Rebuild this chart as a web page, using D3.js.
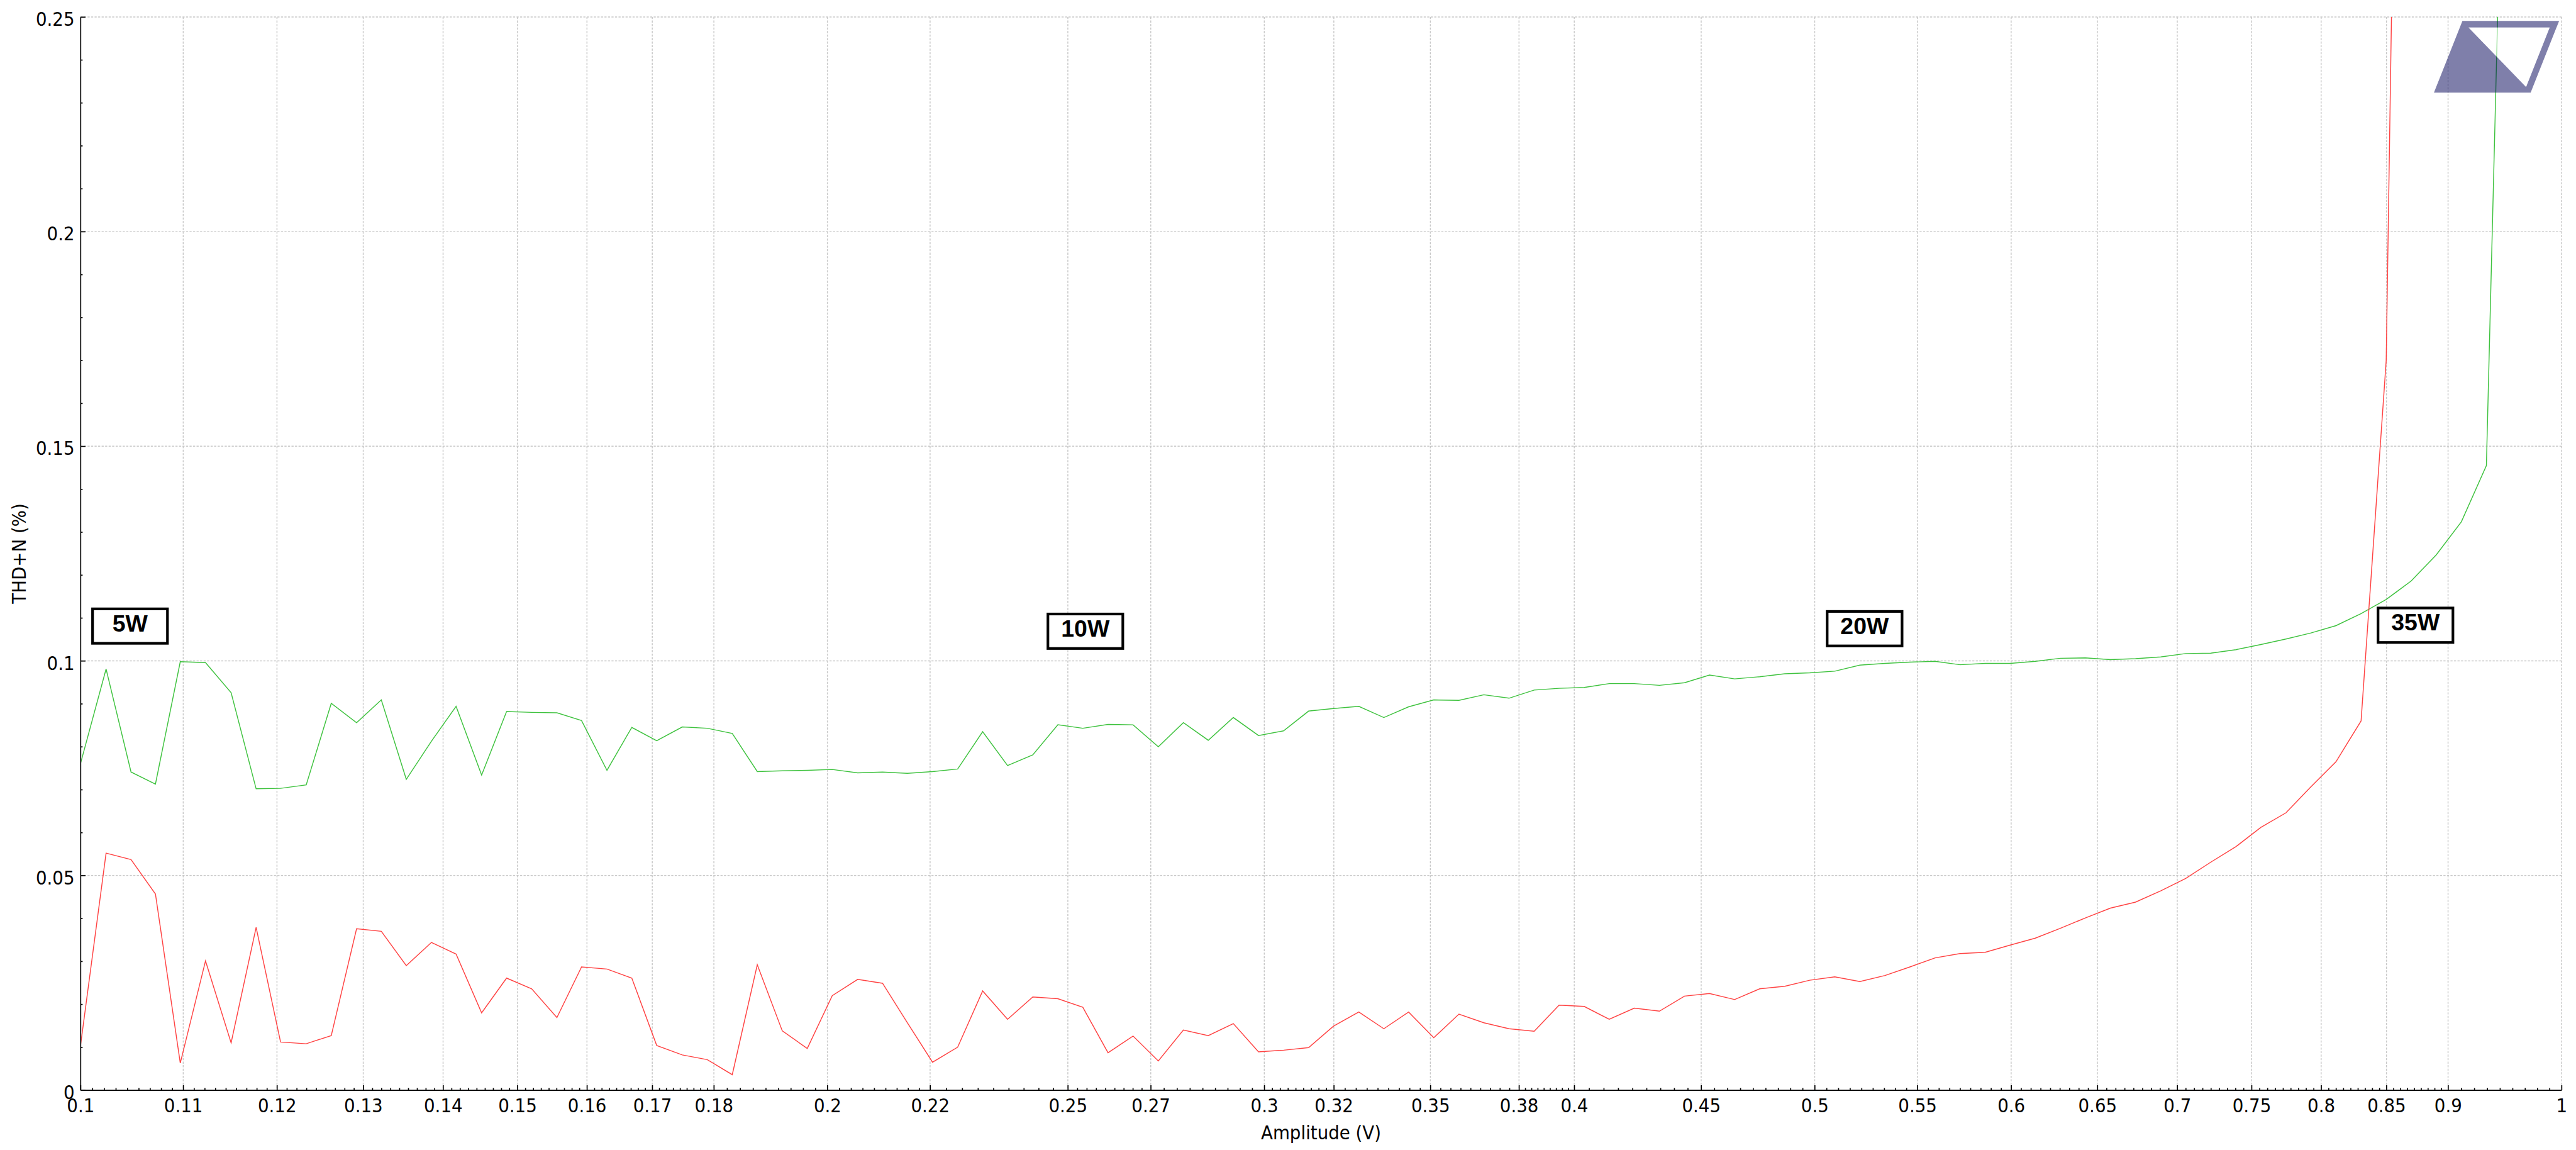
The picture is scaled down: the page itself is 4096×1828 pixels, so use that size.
<!DOCTYPE html>
<html>
<head>
<meta charset="utf-8">
<script src="https://cdn.jsdelivr.net/npm/d3@7/dist/d3.min.js"></script>
<style>
  html, body { margin: 0; padding: 0; background: #fff; overflow: hidden; }
  svg { display: block; }
  .tick-lbl, .axis-title { font-family: "DejaVu Sans Condensed", "DejaVu Sans", sans-serif; font-stretch: condensed; fill: #000; }
  .box-lbl { font-family: "Liberation Sans", Arial, sans-serif; font-weight: bold; fill: #000; }
</style>
</head>
<body>
<svg id="chart"></svg>
<script>
// ── Data ──────────────────────────────────────────────────────────────────────
const AMPLITUDE = [
  0.1000, 0.1024, 0.1048, 0.1072, 0.1097, 0.1123, 0.1150, 0.1177, 0.1204, 0.1233,
  0.1262, 0.1292, 0.1322, 0.1353, 0.1385, 0.1417, 0.1451, 0.1485, 0.1520, 0.1556,
  0.1592, 0.1630, 0.1668, 0.1707, 0.1748, 0.1789, 0.1831, 0.1874, 0.1918, 0.1963,
  0.2009, 0.2057, 0.2105, 0.2154, 0.2205, 0.2257, 0.2310, 0.2364, 0.2420, 0.2477,
  0.2535, 0.2595, 0.2656, 0.2719, 0.2783, 0.2848, 0.2915, 0.2984, 0.3054, 0.3126,
  0.3199, 0.3275, 0.3352, 0.3430, 0.3511, 0.3594, 0.3678, 0.3765, 0.3854, 0.3944,
  0.4037, 0.4132, 0.4229, 0.4329, 0.4431, 0.4535, 0.4642, 0.4751, 0.4863, 0.4977,
  0.5094, 0.5214, 0.5337, 0.5462, 0.5591, 0.5722, 0.5857, 0.5995, 0.6136, 0.6280,
  0.6428, 0.6579, 0.6734, 0.6893, 0.7055, 0.7221, 0.7391, 0.7565, 0.7743, 0.7925,
  0.8111, 0.8302, 0.8498, 0.8697, 0.8902, 0.9112, 0.9326, 0.9545, 0.9770, 1.0000
];

// THD+N (%) — green trace
const THD_GREEN = [
  0.0761, 0.0981, 0.0741, 0.0713, 0.0998, 0.0996, 0.0926, 0.0702, 0.0703, 0.0711,
  0.0901, 0.0856, 0.0909, 0.0724, 0.0813, 0.0894, 0.0734, 0.0882, 0.0880, 0.0879,
  0.0861, 0.0745, 0.0845, 0.0814, 0.0846, 0.0843, 0.0831, 0.0742, 0.0744, 0.0745,
  0.0747, 0.0739, 0.0741, 0.0738, 0.0742, 0.0748, 0.0835, 0.0756, 0.0781, 0.0851,
  0.0843, 0.0852, 0.0851, 0.0800, 0.0856, 0.0815, 0.0868, 0.0826, 0.0837, 0.0883,
  0.0889, 0.0894, 0.0868, 0.0893, 0.0909, 0.0908, 0.0921, 0.0913, 0.0932, 0.0936,
  0.0938, 0.0947, 0.0947, 0.0943, 0.0949, 0.0967, 0.0958, 0.0963, 0.0970, 0.0972,
  0.0976, 0.0990, 0.0994, 0.0997, 0.0999, 0.0991, 0.0994, 0.0994, 0.0999, 0.1006,
  0.1007, 0.1003, 0.1005, 0.1009, 0.1017, 0.1018, 0.1026, 0.1038, 0.1051, 0.1065,
  0.1082, 0.1110, 0.1143, 0.1186, 0.1247, 0.1324, 0.1455, 0.3780
];

// THD+N (%) — red trace
const THD_RED = [
  0.0104, 0.0552, 0.0537, 0.0457, 0.0063, 0.0301, 0.0110, 0.0379, 0.0112, 0.0108,
  0.0127, 0.0376, 0.0370, 0.0290, 0.0344, 0.0317, 0.0180, 0.0261, 0.0236, 0.0169,
  0.0287, 0.0282, 0.0261, 0.0104, 0.0082, 0.0071, 0.0036, 0.0292, 0.0138, 0.0097,
  0.0220, 0.0258, 0.0249, 0.0157, 0.0065, 0.0100, 0.0231, 0.0165, 0.0217, 0.0213,
  0.0193, 0.0087, 0.0126, 0.0068, 0.0140, 0.0127, 0.0155, 0.0089, 0.0093, 0.0099,
  0.0149, 0.0182, 0.0143, 0.0182, 0.0122, 0.0177, 0.0157, 0.0143, 0.0137, 0.0198,
  0.0195, 0.0165, 0.0191, 0.0184, 0.0219, 0.0225, 0.0211, 0.0236, 0.0242, 0.0256,
  0.0264, 0.0253, 0.0267, 0.0287, 0.0308, 0.0318, 0.0321, 0.0338, 0.0354, 0.0377,
  0.0401, 0.0424, 0.0438, 0.0464, 0.0493, 0.0531, 0.0567, 0.0612, 0.0646, 0.0707,
  0.0765, 0.0860, 0.1700, 0.5500
];

const X_TICKS = [0.1, 0.11, 0.12, 0.13, 0.14, 0.15, 0.16, 0.17, 0.18, 0.2, 0.22, 0.25, 0.27,
                 0.3, 0.32, 0.35, 0.38, 0.4, 0.45, 0.5, 0.55, 0.6, 0.65, 0.7, 0.75, 0.8, 0.85, 0.9, 1];
const Y_TICKS = [0, 0.05, 0.1, 0.15, 0.2, 0.25];

// power annotations: label, amplitude, THD+N at the box centre
const NOTE_LABELS = ["5W", "10W", "20W", "35W"];
const NOTE_X      = [0.1047, 0.2541, 0.5237, 0.8732];
const NOTE_Y      = [0.1081, 0.1069, 0.1075, 0.1083];

// ── Layout (drawn in reference pixels, scaled by the viewBox) ─────────────────
const VW = 7326, VH = 3269;
const M  = { top: 48, right: 41, bottom: 170, left: 229 };
const W  = VW - M.left - M.right;
const H  = VH - M.top  - M.bottom;

const COLORS = { red: "#ff4242", green: "#3ec23e", grid: "#c8c8c8", logo: "#000055" };

const svg = d3.select("#chart")
  .attr("width", 4096).attr("height", 1828)
  .attr("viewBox", `0 0 ${VW} ${VH}`);

const g = svg.append("g").attr("transform", `translate(${M.left},${M.top})`);

const x = d3.scaleLog().domain([0.1, 1]).range([0, W]);
const y = d3.scaleLinear().domain([0, 0.25]).range([H, 0]);

// minor ticks: 8 between each pair of labelled ticks
const X_MINOR = d3.pairs(X_TICKS).flatMap(([a, b]) => d3.range(1, 9).map(i => a + (b - a) * i / 9));
const Y_MINOR = d3.range(0, 26).map(i => i / 100).filter(v => !Y_TICKS.some(t => Math.abs(t - v) < 1e-9));

// ── Grid ──────────────────────────────────────────────────────────────────────
const gridG = g.append("g")
  .attr("stroke", COLORS.grid).attr("stroke-width", 2.6).attr("stroke-dasharray", "6 4");
gridG.selectAll("line.gx").data(X_TICKS.slice(1)).join("line")
  .attr("class", "gx")
  .attr("x1", d => x(d)).attr("x2", d => x(d))
  .attr("y1", 0).attr("y2", H);
gridG.selectAll("line.gy").data(Y_TICKS.slice(1)).join("line")
  .attr("class", "gy")
  .attr("x1", 0).attr("x2", W)
  .attr("y1", d => y(d)).attr("y2", d => y(d));

// ── Series ────────────────────────────────────────────────────────────────────
svg.append("defs").append("clipPath").attr("id", "plot-clip")
  .append("rect").attr("width", W).attr("height", H);

const line = d3.line().x(d => x(d[0])).y(d => y(d[1]));
const seriesG = g.append("g").attr("clip-path", "url(#plot-clip)").attr("fill", "none");

seriesG.append("path")
  .datum(THD_GREEN.map((v, i) => [AMPLITUDE[i], v]))
  .attr("stroke", COLORS.green).attr("stroke-width", 2.6)
  .attr("d", line);
seriesG.append("path")
  .datum(THD_RED.map((v, i) => [AMPLITUDE[i], v]))
  .attr("stroke", COLORS.red).attr("stroke-width", 2.6)
  .attr("d", line);

// ── Axes ──────────────────────────────────────────────────────────────────────
function styleAxis(ax) {
  ax.select(".domain").attr("stroke", "#000").attr("stroke-width", 3);
  ax.selectAll(".tick line").attr("stroke", "#000").attr("stroke-width", 3);
  ax.selectAll(".tick text").attr("class", "tick-lbl").attr("font-size", 55);
}

g.append("g")
  .attr("transform", `translate(0,${H})`)
  .call(d3.axisBottom(x).tickValues(X_MINOR).tickSize(-6).tickSizeOuter(0).tickFormat(""))
  .call(ax => ax.select(".domain").remove())
  .call(styleAxis);
g.append("g")
  .attr("transform", `translate(0,${H})`)
  .call(d3.axisBottom(x).tickValues(X_TICKS).tickSize(-14).tickSizeOuter(0)
    .tickPadding(24).tickFormat(d3.format("~g")))
  .call(styleAxis)
  .call(ax => ax.selectAll("text").attr("font-size", 55));

g.append("g")
  .call(d3.axisLeft(y).tickValues(Y_MINOR).tickSize(-6).tickSizeOuter(0).tickFormat(""))
  .call(ax => ax.select(".domain").remove())
  .call(styleAxis);
g.append("g")
  .call(d3.axisLeft(y).tickValues(Y_TICKS).tickSize(-14).tickSizeOuter(0)
    .tickPadding(17).tickFormat(d3.format("~g")))
  .call(styleAxis)
  .call(ax => ax.selectAll("text").attr("dy", "0.45em"));

// axis titles
g.append("text").attr("class", "axis-title")
  .attr("x", W / 2).attr("y", H + 139)
  .attr("text-anchor", "middle").attr("font-size", 55)
  .text("Amplitude (V)");
svg.append("text").attr("class", "axis-title")
  .attr("transform", `translate(74,${M.top + H / 2}) rotate(-90)`)
  .attr("text-anchor", "middle").attr("font-size", 55)
  .text("THD+N (%)");

// ── Power annotations ─────────────────────────────────────────────────────────
const BOX_W = 213, BOX_H = 98;
const notesG = g.append("g");
NOTE_LABELS.forEach((lbl, i) => {
  const cx = x(NOTE_X[i]), cy = y(NOTE_Y[i]);
  notesG.append("rect")
    .attr("x", cx - BOX_W / 2).attr("y", cy - BOX_H / 2)
    .attr("width", BOX_W).attr("height", BOX_H)
    .attr("fill", "#fff").attr("stroke", "#000").attr("stroke-width", 7.5);
  notesG.append("text").attr("class", "box-lbl")
    .attr("x", cx).attr("y", cy + 15.5)
    .attr("text-anchor", "middle").attr("font-size", 67)
    .text(lbl);
});

// ── Logo (top-right, drawn over the traces) ───────────────────────────────────
const logoG = g.append("g").attr("transform", `translate(${W},0)`);
logoG.append("path")
  .attr("d", "M-282,11 L-7,11 L-88,215 L-363,215 Z M-264.5,30 L-34,30 L-101,199 Z")
  .attr("fill", COLORS.logo).attr("fill-rule", "evenodd").attr("opacity", 0.5);
logoG.append("path")
  .attr("d", "M-264.5,30 L-34,30 L-101,199 Z")
  .attr("fill", "#fff").attr("opacity", 0.5);
</script>
</body>
</html>
